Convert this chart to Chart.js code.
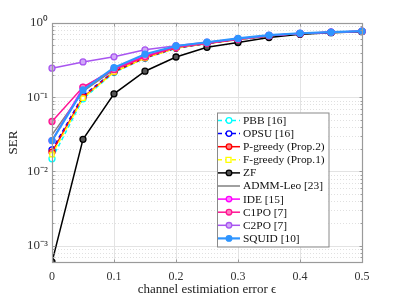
<!DOCTYPE html>
<html><head><meta charset="utf-8">
<script src="https://cdn.jsdelivr.net/npm/chart.js@4/dist/chart.umd.min.js"></script>
<style>html,body{margin:0;padding:0;background:#fff;}canvas{display:block;}</style>
</head><body>
<canvas id="c" width="399" height="299"></canvas>
<script>
const eps = [0, 0.05, 0.1, 0.15, 0.2, 0.25, 0.3, 0.35, 0.4, 0.45, 0.5];
const PBB     = [0.0148, 0.095, 0.215, 0.335, 0.455, 0.527, 0.598, 0.668, 0.717, 0.745, 0.770];
const OPSU    = [0.0195, 0.105, 0.222, 0.342, 0.462, 0.532, 0.602, 0.672, 0.720, 0.747, 0.771];
const Pgreedy = [0.0182, 0.100, 0.220, 0.340, 0.460, 0.530, 0.600, 0.670, 0.718, 0.746, 0.770];
const Fgreedy = [0.0168, 0.097, 0.218, 0.338, 0.458, 0.528, 0.600, 0.670, 0.718, 0.746, 0.770];
const ZF      = [0.00060, 0.027, 0.111, 0.224, 0.348, 0.470, 0.546, 0.637, 0.706, 0.740, 0.765];
const ADMM    = [0.031, 0.120, 0.235, 0.355, 0.470, 0.535, 0.605, 0.675, 0.720, 0.748, 0.772];
const IDE     = [0.026, 0.135, 0.240, 0.360, 0.475, 0.540, 0.610, 0.678, 0.722, 0.750, 0.773];
const C1PO    = [0.047, 0.137, 0.235, 0.350, 0.470, 0.535, 0.605, 0.675, 0.720, 0.748, 0.772];
const C2PO    = [0.246, 0.299, 0.350, 0.435, 0.495, 0.550, 0.615, 0.680, 0.725, 0.750, 0.775];
const SQUID   = [0.026, 0.125, 0.250, 0.380, 0.490, 0.550, 0.620, 0.685, 0.728, 0.752, 0.775];
const seriesNames = ['PBB [16]', 'OPSU [16]', 'P-greedy (Prop.2)', 'F-greedy (Prop.1)', 'ZF', 'ADMM-Leo [23]', 'IDE [15]', 'C1PO [7]', 'C2PO [7]', 'SQUID [10]'];
const seriesValues = [PBB, OPSU, Pgreedy, Fgreedy, ZF, ADMM, IDE, C1PO, C2PO, SQUID];
const xTicks = [0, 0.1, 0.2, 0.3, 0.4, 0.5];
const yDecades = [1e-3, 1e-2, 1e-1, 1];
const yMin = 6.45e-4, yMax = 1;

const styles = [
  {c:'#00ffff', dash:[4,3], pt:'circle', fill:'#ffffff', w:1.5},
  {c:'#0000ff', dash:[4,3], pt:'circle', fill:'#ffffff', w:1.5},
  {c:'#ff0000', dash:[],    pt:'circle', fill:'#ff8080', w:1.5},
  {c:'#ffff00', dash:[4,3], pt:'rect',   fill:'#ffffff', w:1.5},
  {c:'#000000', dash:[],    pt:'circle', fill:'#555555', w:1.5},
  {c:'#808080', dash:[],    pt:false,    fill:'#808080', w:1.5},
  {c:'#ff00ff', dash:[],    pt:'circle', fill:'#ff80ff', w:1.5},
  {c:'#ff1493', dash:[],    pt:'circle', fill:'#ff80c0', w:1.5},
  {c:'#a855f0', dash:[],    pt:'circle', fill:'#d0a8f8', w:1.5},
  {c:'#2f95ff', dash:[],    pt:'circle', fill:'#2f95ff', w:2.2}
];

const datasets = seriesNames.map((name, i) => ({
  label: name,
  data: eps.map((x, j) => ({x: x, y: seriesValues[i][j]})),
  borderColor: styles[i].c,
  backgroundColor: styles[i].fill,
  borderWidth: styles[i].w,
  borderDash: styles[i].dash,
  pointStyle: styles[i].pt,
  pointRadius: styles[i].pt ? 3 : 0,
  pointBorderWidth: 1.3,
  pointBorderColor: styles[i].c,
  pointBackgroundColor: styles[i].fill,
  tension: 0,
  order: 20 - i,
  clip: i === 4 ? 0 : false
}));

const GRID = '#e3e3e3', AX = '#9a9a9a';
const isDecade = v => Math.abs(Math.log10(v) - Math.round(Math.log10(v))) < 1e-9;
const sup = {'0':'\u2070','1':'\u00b9','2':'\u00b2','3':'\u00b3','-':'\u207b'};

const frame = {
  id: 'frame',
  beforeDatasetsDraw(chart) {
    const {ctx, chartArea: a, scales: {x, y}} = chart;
    ctx.save();
    ctx.lineWidth = 1;
    ctx.strokeStyle = '#e0e0e0';
    ctx.setLineDash([1, 2]);
    for (let e = -4; e <= 0; e++) for (let m = 2; m <= 9; m++) {
      const v = m * Math.pow(10, e);
      if (v < yMin || v > yMax) continue;
      const py = Math.round(y.getPixelForValue(v)) + 0.5;
      ctx.beginPath(); ctx.moveTo(a.left, py); ctx.lineTo(a.right, py); ctx.stroke();
    }
    ctx.setLineDash([]);
    ctx.strokeStyle = GRID;
    yDecades.forEach(v => {
      const py = Math.round(y.getPixelForValue(v)) + 0.5;
      ctx.beginPath(); ctx.moveTo(a.left, py); ctx.lineTo(a.right, py); ctx.stroke();
    });
    xTicks.forEach(v => {
      const px = Math.round(x.getPixelForValue(v)) + 0.5;
      ctx.beginPath(); ctx.moveTo(px, a.top); ctx.lineTo(px, a.bottom); ctx.stroke();
    });
    ctx.restore();
  },
  afterDatasetsDraw(chart) {
    const {ctx, chartArea: a, scales: {x, y}} = chart;
    ctx.save();
    ctx.strokeStyle = AX;
    ctx.lineWidth = 1;
    const L = Math.round(a.left) + 0.5, R = Math.round(a.right) + 0.5, T = Math.round(a.top) + 0.5, B = Math.round(a.bottom) + 0.5;
    ctx.beginPath();
    xTicks.forEach(v => {
      const px = Math.round(x.getPixelForValue(v)) + 0.5;
      ctx.moveTo(px, B); ctx.lineTo(px, B - 3);
      ctx.moveTo(px, T); ctx.lineTo(px, T + 3);
    });
    for (let e = -4; e <= 0; e++) for (let m = 1; m <= 9; m++) {
      const v = m * Math.pow(10, e);
      if (v < yMin || v > yMax) continue;
      const py = Math.round(y.getPixelForValue(v)) + 0.5;
      const len = m === 1 ? 3 : 2;
      ctx.moveTo(L, py); ctx.lineTo(L + len, py);
      ctx.moveTo(R, py); ctx.lineTo(R - len, py);
    }
    ctx.stroke();
    ctx.lineWidth = 1.2;
    ctx.strokeRect(L, T, R - L, B - T);
    ctx.restore();
  },
  afterDraw(chart) {
    const ctx = chart.ctx;
    const box = {x: 217, y: 112.5, w: 111.5, h: 134};
    ctx.save();
    ctx.fillStyle = '#ffffff';
    ctx.fillRect(box.x, box.y, box.w, box.h);
    ctx.strokeStyle = '#8a8a8a';
    ctx.lineWidth = 1;
    ctx.strokeRect(box.x + 0.5, box.y + 0.5, box.w, box.h);
    ctx.font = '11.4px "Liberation Serif", "Times New Roman", serif';
    ctx.textBaseline = 'middle';
    chart.data.datasets.forEach((ds, i) => {
      const cy = 120.5 + i * 13.1;
      ctx.strokeStyle = ds.borderColor;
      ctx.lineWidth = ds.borderWidth;
      ctx.setLineDash(ds.borderDash);
      ctx.beginPath(); ctx.moveTo(218, cy); ctx.lineTo(240, cy); ctx.stroke();
      ctx.setLineDash([]);
      if (ds.pointStyle) {
        ctx.fillStyle = ds.pointBackgroundColor;
        ctx.lineWidth = 1.3;
        ctx.beginPath();
        if (ds.pointStyle === 'rect') ctx.rect(226, cy - 2.5, 5, 5);
        else ctx.arc(229, cy, 2.8, 0, Math.PI * 2);
        ctx.fill(); ctx.stroke();
      }
      ctx.fillStyle = '#111111';
      ctx.fillText(ds.label, 243, cy + 0.5);
    });
    ctx.restore();
  }
};

new Chart(document.getElementById('c'), {
  type: 'line',
  data: {datasets: datasets},
  plugins: [frame],
  options: {
    responsive: false,
    animation: false,
    events: [],
    layout: {padding: {top: 23, right: 37, left: 0, bottom: 0}},
    plugins: {legend: {display: false}, tooltip: {enabled: false}},
    scales: {
      x: {
        type: 'linear', min: 0, max: 0.5,
        grid: {display: false, drawTicks: false, tickLength: 0},
        border: {display: false},
        ticks: {
          stepSize: 0.1, padding: 8, color: '#333',
          font: {family: '"Liberation Serif", serif', size: 12},
          callback: v => String(Math.round(v * 10) / 10)
        },
        title: {display: true, text: 'channel estimiation error \u03f5', color: '#222',
          font: {family: '"Liberation Serif", serif', size: 13}, padding: {top: 2, bottom: 2}},
        afterFit: s => { s.height = 37; }
      },
      y: {
        type: 'logarithmic', min: yMin, max: yMax,
        grid: {display: false, drawTicks: false, tickLength: 0},
        border: {display: false},
        ticks: {
          autoSkip: false, padding: 4, color: '#333',
          font: {family: '"Liberation Serif", serif', size: 13},
          callback: v => isDecade(v) ? '10' + String(Math.round(Math.log10(v))).split('').map(ch => sup[ch]).join('') : ''
        },
        title: {display: true, text: 'SER', color: '#222',
          font: {family: '"Liberation Serif", serif', size: 13}, padding: {top: 6, bottom: 0}},
        afterFit: s => { s.width = 52; }
      }
    }
  }
});
</script>
</body></html>
